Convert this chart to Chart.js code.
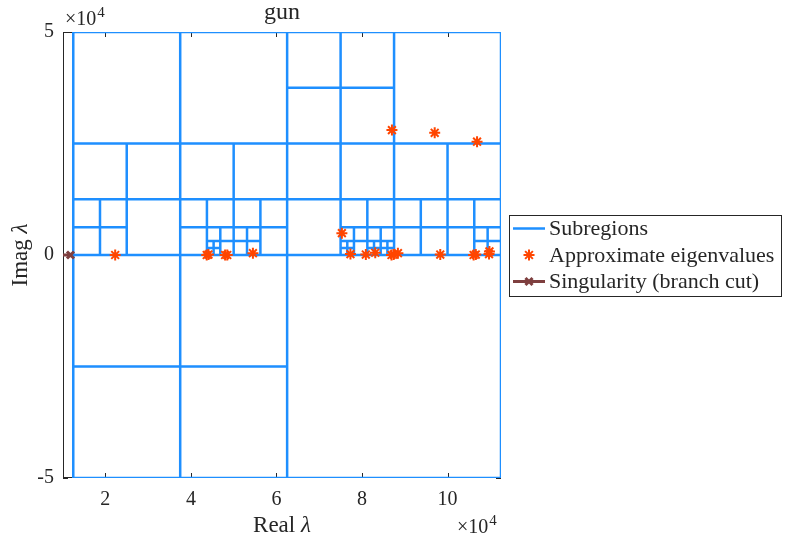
<!DOCTYPE html>
<html>
<head>
<meta charset="utf-8">
<title>gun</title>
<script src="https://cdn.jsdelivr.net/npm/chart.js@4.4.0/dist/chart.umd.min.js"></script>
<style>
  body { margin: 0; background: #fff; }
  #chart { display: block; }
</style>
</head>
<body>
<canvas id="chart" width="785" height="540"></canvas>
<script>
// all values in units of 1e4
// boxes that were split in four: left, right, bottom, top
const splitX0 = [1.25, 1.25, 1.25, 6.25, 1.25, 1.25, 3.75, 3.75, 4.375, 4.375, 5, 5, 6.25, 6.25, 8.75, 7.5, 7.5, 7.5, 8.125, 8.125, 8.4375, 8.75, 10, 10.625];
const splitX1 = [11.25, 6.25, 6.25, 11.25, 3.75, 2.5, 6.25, 5, 5, 4.6875, 6.25, 5.625, 8.75, 8.75, 11.25, 8.75, 8.125, 7.8125, 8.75, 8.4375, 8.75, 10, 11.25, 11.25];
const splitY0 = [-5, -5, 0, 0, 0, 0, 0, 0, 0, 0, 0, 0, 2.5, 0, 0, 0, 0, 0, 0, 0, 0, 0, 0, 0];
const splitY1 = [5, 0, 5, 5, 2.5, 1.25, 2.5, 1.25, 0.625, 0.3125, 1.25, 0.625, 5, 2.5, 2.5, 1.25, 0.625, 0.3125, 0.625, 0.3125, 0.3125, 1.25, 1.25, 0.625];

// approximate eigenvalues (real, imag)
const eigRe = [2.23, 4.37, 4.41, 4.80, 4.85, 5.45, 7.53, 7.73, 8.09, 8.31, 8.69, 8.74, 8.84, 9.83, 10.61, 10.66, 10.97, 10.98, 8.70, 9.70, 10.69];
const eigIm = [0.00, 0.00, 0.01, 0.00, 0.00, 0.04, 0.49, 0.02, 0.01, 0.05, 0.00, 0.01, 0.04, 0.01, 0.00, 0.01, 0.02, 0.08, 2.80, 2.74, 2.54];

// branch cut along the real axis, ends at the singularity
const cutRe = [0, 1.185];
const cutIm = [0, 0];

const xTicks = [2, 4, 6, 8, 10];
const yTicks = [-5, 0, 5];
const xRange = [1.01, 11.25];
const yRange = [-5, 5];

const BLUE = '#1e8fff';
const ORANGE = '#ff4500';
const BROWN = '#7e3f3f';
const INK = '#262626';
const SERIF = "'Liberation Serif', serif";

// outline of the root box, then a cross for every split (null = gap)
const boxPts = [];
const gap = { x: null, y: null };
boxPts.push({ x: splitX0[0], y: splitY0[0] }, { x: splitX1[0], y: splitY0[0] },
            { x: splitX1[0], y: splitY1[0] }, { x: splitX0[0], y: splitY1[0] },
            { x: splitX0[0], y: splitY0[0] }, gap);
for (let i = 0; i < splitX0.length; i++) {
    const xm = (splitX0[i] + splitX1[i]) / 2;
    const ym = (splitY0[i] + splitY1[i]) / 2;
    boxPts.push({ x: xm, y: splitY0[i] }, { x: xm, y: splitY1[i] }, gap);
    boxPts.push({ x: splitX0[i], y: ym }, { x: splitX1[i], y: ym }, gap);
}

const eigPts = eigRe.map((v, i) => ({ x: v, y: eigIm[i] }));
const cutPts = cutRe.map((v, i) => ({ x: v, y: cutIm[i] }));

// box round the axes and inward tick marks
const axesBox = {
    id: 'axesBox',
    beforeDatasetsDraw(chart) {
        const { ctx, chartArea: a, scales } = chart;
        ctx.save();
        ctx.strokeStyle = INK;
        ctx.lineWidth = 1;
        ctx.strokeRect(a.left + 0.5, a.top + 0.5, a.width - 1, a.height - 1);
        ctx.beginPath();
        xTicks.forEach(v => {
            const p = Math.round(scales.x.getPixelForValue(v)) + 0.5;
            ctx.moveTo(p, a.bottom); ctx.lineTo(p, a.bottom - 5);
            ctx.moveTo(p, a.top); ctx.lineTo(p, a.top + 5);
        });
        yTicks.forEach(v => {
            const p = Math.round(scales.y.getPixelForValue(v)) + 0.5;
            ctx.moveTo(a.left, p); ctx.lineTo(a.left + 5, p);
            ctx.moveTo(a.right, p); ctx.lineTo(a.right - 5, p);
        });
        ctx.stroke();
        ctx.restore();
    }
};

function exponent(ctx, x, y) {
    ctx.font = '20px ' + SERIF;
    ctx.textAlign = 'left';
    ctx.textBaseline = 'alphabetic';
    ctx.fillText('\u00d710', x, y);
    const w = ctx.measureText('\u00d710').width;
    ctx.font = '15px ' + SERIF;
    ctx.fillText('4', x + w + 1, y - 8);
}

// title, axis labels, exponents and legend
const labels = {
    id: 'labels',
    afterDraw(chart) {
        const { ctx, chartArea: a } = chart;
        const cx = (a.left + a.right) / 2;
        const cy = (a.top + a.bottom) / 2;
        ctx.save();
        ctx.fillStyle = INK;

        ctx.font = '24px ' + SERIF;
        ctx.textAlign = 'center';
        ctx.fillText('gun', cx, 19);

        // Real λ
        ctx.textAlign = 'left';
        ctx.font = '23px ' + SERIF;
        const w1 = ctx.measureText('Real ').width;
        ctx.font = 'italic 23px ' + SERIF;
        const w2 = ctx.measureText('\u03bb').width;
        let x0 = cx - (w1 + w2) / 2;
        ctx.font = '23px ' + SERIF;
        ctx.fillText('Real ', x0, 532);
        ctx.font = 'italic 23px ' + SERIF;
        ctx.fillText('\u03bb', x0 + w1, 532);

        // Imag λ
        ctx.save();
        ctx.translate(27, cy);
        ctx.rotate(-Math.PI / 2);
        ctx.font = '23px ' + SERIF;
        const w3 = ctx.measureText('Imag ').width;
        x0 = -(w3 + w2) / 2;
        ctx.fillText('Imag ', x0, 0);
        ctx.font = 'italic 23px ' + SERIF;
        ctx.fillText('\u03bb', x0 + w3, 0);
        ctx.restore();

        exponent(ctx, 65, 25);
        exponent(ctx, 457, 533);

        // legend
        const lx = 509.5, ly = 215.5, lw = 272, lh = 81;
        ctx.fillStyle = '#fff';
        ctx.fillRect(lx, ly, lw, lh);
        ctx.strokeStyle = INK;
        ctx.lineWidth = 1;
        ctx.strokeRect(lx, ly, lw, lh);
        const rows = [228.5, 255, 281.5];
        const names = ['Subregions', 'Approximate eigenvalues', 'Singularity (branch cut)'];

        ctx.strokeStyle = BLUE;
        ctx.lineWidth = 2.5;
        ctx.beginPath(); ctx.moveTo(513, rows[0]); ctx.lineTo(545, rows[0]); ctx.stroke();

        ctx.strokeStyle = ORANGE;
        ctx.lineWidth = 2;
        Chart.helpers.drawPoint(ctx, { pointStyle: 'star', radius: 5.5, borderWidth: 2 }, 529, rows[1]);

        ctx.strokeStyle = BROWN;
        ctx.lineWidth = 3;
        ctx.beginPath(); ctx.moveTo(513, rows[2]); ctx.lineTo(545, rows[2]); ctx.stroke();
        ctx.lineWidth = 3;
        Chart.helpers.drawPoint(ctx, { pointStyle: 'crossRot', radius: 5, borderWidth: 3 }, 529, rows[2]);

        ctx.fillStyle = INK;
        ctx.font = '22px ' + SERIF;
        ctx.textAlign = 'left';
        ctx.textBaseline = 'middle';
        names.forEach((n, i) => ctx.fillText(n, 549, rows[i] + 1));
        ctx.restore();
    }
};

new Chart(document.getElementById('chart'), {
    type: 'scatter',
    data: {
        datasets: [
            {
                label: 'Approximate eigenvalues',
                data: eigPts,
                pointStyle: 'star',
                pointRadius: 5.5,
                pointBorderWidth: 2,
                pointBorderColor: ORANGE,
                pointBackgroundColor: ORANGE,
                showLine: false,
                order: 0
            },
            {
                label: 'Singularity (branch cut)',
                data: cutPts,
                showLine: true,
                borderColor: BROWN,
                borderWidth: 3,
                pointStyle: 'crossRot',
                pointRadius: [0, 5],
                pointBorderWidth: 3,
                pointBorderColor: BROWN,
                order: 1
            },
            {
                label: 'Subregions',
                data: boxPts,
                showLine: true,
                spanGaps: false,
                borderColor: BLUE,
                borderWidth: 2.5,
                borderCapStyle: 'square',
                borderJoinStyle: 'miter',
                pointRadius: 0,
                order: 2
            }
        ]
    },
    options: {
        responsive: false,
        animation: false,
        devicePixelRatio: 1,
        layout: { padding: { top: 32, right: 284, bottom: 0, left: 0 } },
        plugins: {
            legend: { display: false },
            tooltip: { enabled: false },
            title: { display: false }
        },
        scales: {
            x: {
                type: 'linear',
                min: xRange[0],
                max: xRange[1],
                grid: { display: false, drawTicks: false },
                border: { display: false },
                afterBuildTicks: s => { s.ticks = xTicks.map(v => ({ value: v })); },
                afterFit: s => { s.height = 62; },
                ticks: {
                    padding: 10,
                    color: INK,
                    font: { family: SERIF, size: 20 },
                    callback: v => String(v)
                }
            },
            y: {
                type: 'linear',
                min: yRange[0],
                max: yRange[1],
                grid: { display: false, drawTicks: false },
                border: { display: false },
                afterBuildTicks: s => { s.ticks = yTicks.map(v => ({ value: v })); },
                afterFit: s => { s.width = 63; },
                ticks: {
                    padding: 9,
                    color: INK,
                    font: { family: SERIF, size: 20 },
                    callback: v => String(v)
                }
            }
        }
    },
    plugins: [axesBox, labels]
});
</script>
</body>
</html>
